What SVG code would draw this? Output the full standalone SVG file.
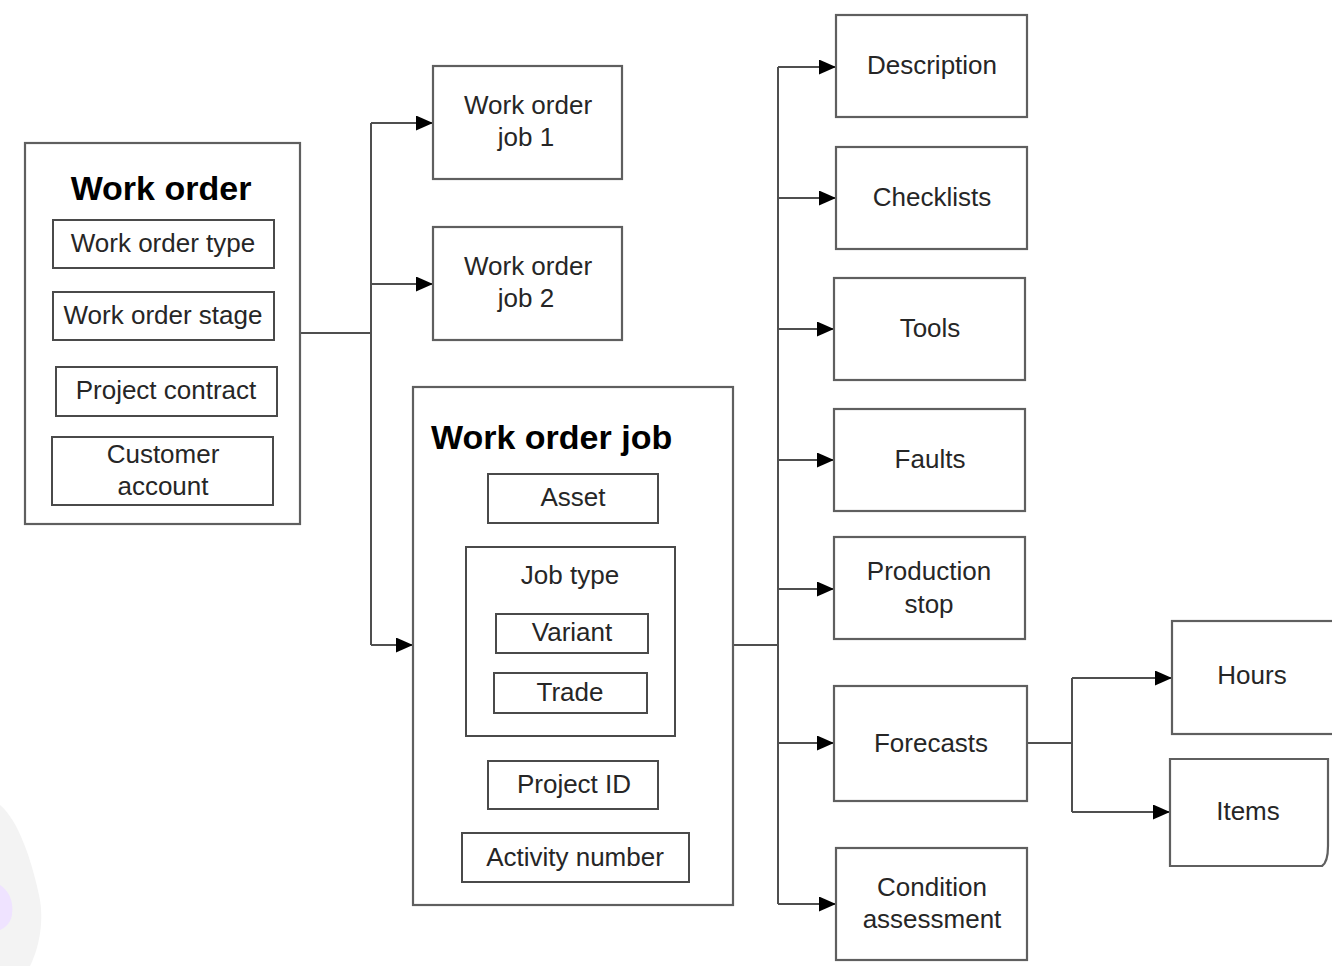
<svg xmlns="http://www.w3.org/2000/svg" width="1332" height="966" viewBox="0 0 1332 966">
  <style>
    .box { fill: #ffffff; stroke: #5f5f5f; stroke-width: 2.2; }
    .sub { fill: #ffffff; stroke: #4a4a4a; stroke-width: 2; }
    .lbl { font-family: "Liberation Sans", Arial, sans-serif; font-size: 26px; fill: #262626; text-anchor: middle; }
    .ttl { font-family: "Liberation Sans", Arial, sans-serif; font-size: 34px; font-weight: bold; fill: #000000; }
    .wire { fill: none; stroke: #4f4f4f; stroke-width: 2; }
  </style>
  <defs>
    <marker id="arrow" viewBox="0 0 17 15" refX="17" refY="7.5" markerWidth="17" markerHeight="15" markerUnits="userSpaceOnUse" orient="auto">
      <path d="M0,0 L17,7.5 L0,15 Z" fill="#000000"/>
    </marker>
  </defs>

  <rect width="1332" height="966" fill="#ffffff"/>

  <!-- soft swoosh in the lower-left corner -->
  <g id="corner-swoosh">
    <path d="M0,805 C18,820 32,860 40,900 C44,925 38,950 30,966 L0,966 Z" fill="#f3f3f3"/>
    <path d="M0,885 C8,890 14,900 12,915 C10,925 4,928 0,930 Z" fill="#efe3ff"/>
  </g>

  <!-- connectors -->
  <g id="connectors">
    <path class="wire" d="M300,333 H371"/>
    <path class="wire" d="M371,123 V645"/>
    <path class="wire" d="M371,123 H433" marker-end="url(#arrow)"/>
    <path class="wire" d="M371,284 H433" marker-end="url(#arrow)"/>
    <path class="wire" d="M371,645 H413" marker-end="url(#arrow)"/>

    <path class="wire" d="M733,645 H778"/>
    <path class="wire" d="M778,67 V904"/>
    <path class="wire" d="M778,67 H836" marker-end="url(#arrow)"/>
    <path class="wire" d="M778,198 H836" marker-end="url(#arrow)"/>
    <path class="wire" d="M778,329 H834" marker-end="url(#arrow)"/>
    <path class="wire" d="M778,460 H834" marker-end="url(#arrow)"/>
    <path class="wire" d="M778,589 H834" marker-end="url(#arrow)"/>
    <path class="wire" d="M778,743 H834" marker-end="url(#arrow)"/>
    <path class="wire" d="M778,904 H836" marker-end="url(#arrow)"/>

    <path class="wire" d="M1027,743 H1072"/>
    <path class="wire" d="M1072,678 V812"/>
    <path class="wire" d="M1072,678 H1172" marker-end="url(#arrow)"/>
    <path class="wire" d="M1072,812 H1170" marker-end="url(#arrow)"/>
  </g>

  <!-- Work order -->
  <g id="work-order">
    <rect class="box" x="25" y="143" width="275" height="381"/>
    <text class="ttl" x="161" y="200" text-anchor="middle">Work order</text>
    <rect class="sub" x="53" y="220" width="221" height="48"/>
    <text class="lbl" x="163" y="252">Work order type</text>
    <rect class="sub" x="53" y="292" width="221" height="48"/>
    <text class="lbl" x="163" y="324">Work order stage</text>
    <rect class="sub" x="56" y="367" width="221" height="49"/>
    <text class="lbl" x="166" y="399">Project contract</text>
    <rect class="sub" x="52" y="437" width="221" height="68"/>
    <text class="lbl" x="163" y="463">Customer</text>
    <text class="lbl" x="163" y="495">account</text>
  </g>

  <!-- Work order job 1 -->
  <g id="work-order-job-1">
    <rect class="box" x="433" y="66" width="189" height="113"/>
    <text class="lbl" x="528" y="114">Work order</text>
    <text class="lbl" x="526" y="146">job 1</text>
  </g>

  <!-- Work order job 2 -->
  <g id="work-order-job-2">
    <rect class="box" x="433" y="227" width="189" height="113"/>
    <text class="lbl" x="528" y="275">Work order</text>
    <text class="lbl" x="526" y="307">job 2</text>
  </g>

  <!-- Work order job -->
  <g id="work-order-job">
    <rect class="box" x="413" y="387" width="320" height="518"/>
    <text class="ttl" x="431" y="449">Work order job</text>
    <rect class="sub" x="488" y="474" width="170" height="49"/>
    <text class="lbl" x="573" y="506">Asset</text>
    <rect class="sub" x="466" y="547" width="209" height="189"/>
    <text class="lbl" x="570" y="584">Job type</text>
    <rect class="sub" x="496" y="614" width="152" height="39"/>
    <text class="lbl" x="572" y="641">Variant</text>
    <rect class="sub" x="494" y="673" width="153" height="40"/>
    <text class="lbl" x="570" y="701">Trade</text>
    <rect class="sub" x="488" y="761" width="170" height="48"/>
    <text class="lbl" x="574" y="793">Project ID</text>
    <rect class="sub" x="462" y="833" width="227" height="49"/>
    <text class="lbl" x="575" y="866">Activity number</text>
  </g>

  <!-- detail boxes -->
  <g id="description">
    <rect class="box" x="836" y="15" width="191" height="102"/>
    <text class="lbl" x="932" y="74">Description</text>
  </g>
  <g id="checklists">
    <rect class="box" x="836" y="147" width="191" height="102"/>
    <text class="lbl" x="932" y="206">Checklists</text>
  </g>
  <g id="tools">
    <rect class="box" x="834" y="278" width="191" height="102"/>
    <text class="lbl" x="930" y="337">Tools</text>
  </g>
  <g id="faults">
    <rect class="box" x="834" y="409" width="191" height="102"/>
    <text class="lbl" x="930" y="468">Faults</text>
  </g>
  <g id="production-stop">
    <rect class="box" x="834" y="537" width="191" height="102"/>
    <text class="lbl" x="929" y="580">Production</text>
    <text class="lbl" x="929" y="613">stop</text>
  </g>
  <g id="forecasts">
    <rect class="box" x="834" y="686" width="193" height="115"/>
    <text class="lbl" x="931" y="752">Forecasts</text>
  </g>
  <g id="condition-assessment">
    <rect class="box" x="836" y="848" width="191" height="112"/>
    <text class="lbl" x="932" y="896">Condition</text>
    <text class="lbl" x="932" y="928">assessment</text>
  </g>

  <!-- forecast breakdown -->
  <g id="hours">
    <rect class="box" x="1172" y="621" width="162" height="113"/>
    <text class="lbl" x="1252" y="684">Hours</text>
  </g>
  <g id="items">
    <path class="box" d="M1170,759 H1328 V846 Q1328,862 1322,866 H1170 Z"/>
    <text class="lbl" x="1248" y="820">Items</text>
  </g>
</svg>
